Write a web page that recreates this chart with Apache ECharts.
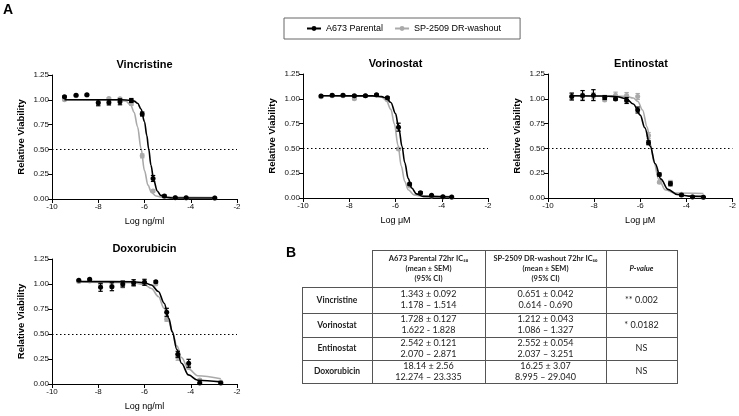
<!DOCTYPE html>
<html><head><meta charset="utf-8">
<script src="https://cdn.jsdelivr.net/npm/echarts@6/dist/echarts.min.js"></script>
<style>html,body{margin:0;padding:0;background:#fff}#c{width:739px;height:416px}</style>
</head><body><div id="c"></div><script>
// ---------- DATA ----------
const drugs = ['Vincristine', 'Vorinostat', 'Entinostat', 'Doxorubicin'];
const xUnits = ['Log ng/ml', 'Log \u03bcM', 'Log \u03bcM', 'Log ng/ml'];
const xTicks = [-10, -8, -6, -4, -2];
const yTicks = [0, 0.25, 0.5, 0.75, 1.0, 1.25];
const seriesNames = ['A673 Parental', 'SP-2509 DR-washout'];

// Vincristine
const vinX = [-9.46, -8.96, -8.49, -8.0, -7.54, -7.06, -6.57, -6.1, -5.63, -5.14, -4.67, -4.2, -2.96];
const vinPar = [1.03, 1.047, 1.05, 0.97, 0.973, 0.98, 0.993, 0.857, 0.207, 0.03, 0.013, 0.013, 0.01];
const vinParErr = [0.008, 0.008, 0.008, 0.03, 0.025, 0.03, 0.02, 0.02, 0.03, 0.01, 0.005, 0.005, 0.005];
const vinWsh = [1.0, 1.04, 1.045, 0.97, 1.013, 1.01, 0.96, 0.435, 0.08, 0.025, 0.015, 0.01, 0.01];
const vinWshErr = [0.005, 0.005, 0.005, 0.01, 0.01, 0.01, 0.015, 0.02, 0.01, 0.005, 0.005, 0.005, 0.005];
const vinParCurveX = [-9.46, -7.0, -6.6, -6.45, -6.3, -6.15, -6.0, -5.9, -5.82, -5.72, -5.6, -5.45, -5.3, -5.1, -4.8, -2.96];
const vinParCurveY = [1.0, 1.0, 0.995, 0.987, 0.965, 0.908, 0.779, 0.639, 0.505, 0.34, 0.188, 0.081, 0.037, 0.017, 0.0103, 0.01];
const vinWshCurveX = [-9.46, -7.2, -6.8, -6.6, -6.45, -6.3, -6.15, -6.0, -5.85, -5.7, -5.5, -5.2, -2.96];
const vinWshCurveY = [1.0, 0.999, 0.985, 0.948, 0.875, 0.728, 0.508, 0.287, 0.14, 0.066, 0.03, 0.017, 0.015];

// Vorinostat
const vorX = [-9.22, -8.74, -8.27, -7.78, -7.3, -6.82, -6.35, -5.87, -5.39, -4.92, -4.44, -3.95, -3.57];
const vorPar = [1.027, 1.037, 1.037, 1.03, 1.03, 1.04, 1.01, 0.714, 0.14, 0.054, 0.027, 0.013, 0.01];
const vorParErr = [0.008, 0.008, 0.008, 0.008, 0.008, 0.008, 0.01, 0.04, 0.01, 0.01, 0.005, 0.005, 0.005];
const vorWsh = [1.02, 1.03, 1.03, 1.0, 1.03, 1.035, 0.99, 0.495, 0.12, 0.045, 0.02, 0.01, 0.008];
const vorWshErr = [0.008, 0.008, 0.008, 0.008, 0.008, 0.008, 0.008, 0.01, 0.008, 0.005, 0.005, 0.005, 0.005];
const vorParCurveX = [-9.22, -7.0, -6.6, -6.4, -6.2, -6.0, -5.85, -5.72, -5.6, -5.45, -5.3, -5.1, -4.8, -3.57];
const vorParCurveY = [1.03, 1.029, 1.022, 1.007, 0.963, 0.851, 0.696, 0.52, 0.357, 0.197, 0.101, 0.042, 0.016, 0.01];
const vorWshCurveX = [-9.22, -7.0, -6.6, -6.4, -6.2, -6.05, -5.89, -5.75, -5.6, -5.45, -5.2, -4.8, -3.57];
const vorWshCurveY = [1.03, 1.029, 1.016, 0.984, 0.893, 0.748, 0.53, 0.322, 0.167, 0.083, 0.031, 0.0165, 0.015];

// Entinostat
const entX = [-8.97, -8.5, -8.03, -7.54, -7.07, -6.59, -6.11, -5.64, -5.17, -4.69, -4.21, -3.73, -3.26];
const entPar = [1.023, 1.033, 1.037, 1.013, 0.997, 0.983, 0.887, 0.557, 0.237, 0.143, 0.03, 0.01, 0.007];
const entParErr = [0.035, 0.05, 0.055, 0.02, 0.01, 0.03, 0.03, 0.02, 0.015, 0.02, 0.01, 0.005, 0.005];
const entWsh = [1.02, 1.025, 1.03, 0.987, 1.037, 1.033, 1.023, 0.63, 0.16, 0.157, 0.037, 0.012, 0.01];
const entWshErr = [0.03, 0.03, 0.03, 0.01, 0.03, 0.03, 0.03, 0.03, 0.01, 0.02, 0.01, 0.005, 0.005];
const entParCurveX = [-8.97, -7.5, -7.0, -6.6, -6.3, -6.0, -5.8, -5.57, -5.35, -5.1, -4.8, -4.4, -3.9, -3.26];
const entParCurveY = [1.03, 1.028, 1.021, 0.999, 0.948, 0.835, 0.708, 0.523, 0.345, 0.19, 0.087, 0.035, 0.019, 0.016];
const entWshCurveX = [-8.97, -6.6, -6.3, -6.1, -5.9, -5.7, -5.55, -5.4, -5.2, -4.9, -4.5, -3.26];
const entWshCurveY = [1.03, 1.025, 1.008, 0.973, 0.887, 0.716, 0.537, 0.359, 0.188, 0.08, 0.05, 0.045];

// Doxorubicin
const doxX = [-8.84, -8.37, -7.9, -7.41, -6.94, -6.47, -6.0, -5.51, -5.04, -4.56, -4.09, -3.61, -2.7];
const doxPar = [1.037, 1.047, 0.967, 0.973, 1.0, 1.013, 1.017, 1.023, 0.717, 0.297, 0.207, 0.01, 0.01];
const doxParErr = [0.008, 0.008, 0.04, 0.04, 0.03, 0.03, 0.03, 0.01, 0.04, 0.03, 0.04, 0.005, 0.005];
const doxWsh = [1.025, 1.03, 0.99, 0.98, 0.983, 1.0, 1.01, 1.0, 0.647, 0.267, 0.17, 0.04, 0.02];
const doxWshErr = [0.01, 0.01, 0.02, 0.02, 0.02, 0.02, 0.02, 0.01, 0.02, 0.03, 0.02, 0.01, 0.01];
const doxParCurveX = [-8.84, -6.5, -6.0, -5.7, -5.4, -5.15, -4.95, -4.8, -4.6, -4.4, -4.1, -3.7, -2.7];
const doxParCurveY = [1.025, 1.023, 1.013, 0.99, 0.925, 0.808, 0.658, 0.522, 0.345, 0.207, 0.091, 0.037, 0.021];
const doxWshCurveX = [-8.84, -6.5, -6.0, -5.7, -5.4, -5.15, -4.95, -4.8, -4.6, -4.4, -4.1, -3.7, -2.7];
const doxWshCurveY = [1.02, 1.014, 0.992, 0.955, 0.875, 0.757, 0.628, 0.521, 0.381, 0.265, 0.151, 0.083, 0.052];

// Table (panel B)
const tableRows = ['Vincristine', 'Vorinostat', 'Entinostat', 'Doxorubicin'];
const tableHeaders = [
  ['A673 Parental 72hr IC\u2085\u2080', '(mean \u00b1 SEM)', '(95% CI)'],
  ['SP-2509 DR-washout 72hr IC\u2085\u2080', '(mean \u00b1 SEM)', '(95% CI)'],
  ['P-value']
];
const parentalMean = ['1.343 \u00b1 0.092', '1.728 \u00b1 0.127', '2.542 \u00b1 0.121', '18.14 \u00b1 2.56'];
const parentalCI = ['1.178 \u2013 1.514', '1.622 - 1.828', '2.070 \u2013 2.871', '12.274 \u2013 23.335'];
const washoutMean = ['0.651 \u00b1 0.042', '1.212 \u00b1 0.043', '2.552 \u00b1 0.054', '16.25 \u00b1 3.07'];
const washoutCI = ['0.614 - 0.690', '1.086 \u2013 1.327', '2.037 \u2013 3.251', '8.995 \u2013 29.040'];
const pValues = ['** 0.002', '* 0.0182', 'NS', 'NS'];

// ---------- LAYOUT / STYLE ----------
const panels = [
  {x: vinX, par: vinPar, parErr: vinParErr, wsh: vinWsh, wshErr: vinWshErr, pcx: vinParCurveX, pcy: vinParCurveY, wcx: vinWshCurveX, wcy: vinWshCurveY},
  {x: vorX, par: vorPar, parErr: vorParErr, wsh: vorWsh, wshErr: vorWshErr, pcx: vorParCurveX, pcy: vorParCurveY, wcx: vorWshCurveX, wcy: vorWshCurveY},
  {x: entX, par: entPar, parErr: entParErr, wsh: entWsh, wshErr: entWshErr, pcx: entParCurveX, pcy: entParCurveY, wcx: entWshCurveX, wcy: entWshCurveY},
  {x: doxX, par: doxPar, parErr: doxParErr, wsh: doxWsh, wshErr: doxWshErr, pcx: doxParCurveX, pcy: doxParCurveY, wcx: doxWshCurveX, wcy: doxWshCurveY}
];
const gridBoxes = [
  {left: 52, top: 75, width: 185, height: 124},
  {left: 303, top: 74, width: 185, height: 124},
  {left: 548, top: 74, width: 186, height: 124},
  {left: 52, top: 259, width: 185, height: 125}
];
const BLACK = '#000000', GRAY = '#aaaaaa';
const FONT = '"Liberation Sans", Arial, sans-serif';
const TFONT = 'Lato, "Open Sans", sans-serif';

function errRender(params, api) {
  const x = api.value(0), y = api.value(1), e = api.value(2);
  const p1 = api.coord([x, y + e]), p2 = api.coord([x, y - e]);
  const c = api.visual('color');
  const hw = 2.2;
  const st = {stroke: c, lineWidth: 1.2};
  return {type: 'group', children: [
    {type: 'line', shape: {x1: p1[0], y1: p1[1], x2: p2[0], y2: p2[1]}, style: st},
    {type: 'line', shape: {x1: p1[0] - hw, y1: p1[1], x2: p1[0] + hw, y2: p1[1]}, style: st},
    {type: 'line', shape: {x1: p2[0] - hw, y1: p2[1], x2: p2[0] + hw, y2: p2[1]}, style: st}
  ]};
}

const grid = [], xAxis = [], yAxis = [], series = [], graphic = [];
panels.forEach((p, i) => {
  grid.push(Object.assign({containLabel: false}, gridBoxes[i]));
  xAxis.push({
    type: 'value', gridIndex: i, min: xTicks[0], max: xTicks[xTicks.length - 1], interval: 2,
    name: xUnits[i], nameLocation: 'middle', nameGap: 18,
    nameTextStyle: {fontFamily: FONT, fontSize: 9, color: '#000'},
    axisLine: {show: true, onZero: false, lineStyle: {color: '#000', width: 1}},
    axisTick: {show: true, inside: false, length: 4, lineStyle: {color: '#000'}},
    axisLabel: {fontFamily: FONT, fontSize: 8, color: '#111', margin: 4},
    splitLine: {show: false}
  });
  yAxis.push({
    type: 'value', gridIndex: i, min: yTicks[0], max: yTicks[yTicks.length - 1], interval: 0.25,
    name: 'Relative Viability', nameLocation: 'middle', nameGap: 26,
    nameTextStyle: {fontFamily: FONT, fontSize: 9.5, fontWeight: 'bold', color: '#000'},
    axisLine: {show: true, onZero: false, lineStyle: {color: '#000', width: 1}},
    axisTick: {show: true, inside: false, length: 4, lineStyle: {color: '#000'}},
    axisLabel: {fontFamily: FONT, fontSize: 8, color: '#111', margin: 3, formatter: v => v.toFixed(2)},
    splitLine: {show: false}
  });
  const gb = gridBoxes[i];
  graphic.push({type: 'text', x: gb.left + gb.width / 2, y: gb.top - 10,
    style: {text: drugs[i], font: 'bold 11px ' + FONT, fill: '#000', textAlign: 'center', textVerticalAlign: 'middle'}});
});

// legend-named curve series first (so legend icons come from line series)
panels.forEach((p, i) => {
  series.push({
    type: 'line', name: seriesNames[1], xAxisIndex: i, yAxisIndex: i, z: 2,
    data: p.wcx.map((x, j) => [x, p.wcy[j]]),
    smooth: 0.35, smoothMonotone: 'x', symbol: 'circle', symbolSize: 5, showSymbol: false,
    color: GRAY, lineStyle: {color: GRAY, width: 1.6}, itemStyle: {color: GRAY}
  });
  series.push({
    type: 'line', name: seriesNames[0], xAxisIndex: i, yAxisIndex: i, z: 3,
    data: p.pcx.map((x, j) => [x, p.pcy[j]]),
    smooth: 0.35, smoothMonotone: 'x', symbol: 'circle', symbolSize: 5, showSymbol: false,
    color: BLACK, lineStyle: {color: BLACK, width: 1.6}, itemStyle: {color: BLACK},
    markLine: {
      silent: true, symbol: ['none', 'none'], animation: false,
      label: {show: false},
      lineStyle: {color: '#000', width: 1, type: [1.5, 2.5]},
      data: [{yAxis: 0.5}]
    }
  });
});
panels.forEach((p, i) => {
  series.push({
    type: 'custom', name: 'wshErr' + i, xAxisIndex: i, yAxisIndex: i, z: 2,
    renderItem: errRender, itemStyle: {color: GRAY}, encode: {x: 0, y: 1},
    data: p.x.map((x, j) => [x, p.wsh[j], p.wshErr[j]])
  });
  series.push({
    type: 'scatter', name: 'wshPts' + i, xAxisIndex: i, yAxisIndex: i, z: 2,
    symbol: 'circle', symbolSize: 5, itemStyle: {color: GRAY, opacity: 1},
    data: p.x.map((x, j) => [x, p.wsh[j]])
  });
  series.push({
    type: 'custom', name: 'parErr' + i, xAxisIndex: i, yAxisIndex: i, z: 4,
    renderItem: errRender, itemStyle: {color: BLACK}, encode: {x: 0, y: 1},
    data: p.x.map((x, j) => [x, p.par[j], p.parErr[j]])
  });
  series.push({
    type: 'scatter', name: 'parPts' + i, xAxisIndex: i, yAxisIndex: i, z: 4,
    symbol: 'circle', symbolSize: 5, itemStyle: {color: BLACK, opacity: 1},
    data: p.x.map((x, j) => [x, p.par[j]])
  });
});

// Panel letters
graphic.push({type: 'text', x: 3, y: 3, style: {text: 'A', font: 'bold 14px ' + FONT, fill: '#000'}});
graphic.push({type: 'text', x: 286, y: 246, style: {text: 'B', font: 'bold 14px ' + FONT, fill: '#000'}});

// Table layout
const colX = [302, 372, 485, 606, 677];
const rowY = [250, 287, 313, 337, 360, 383];
const LC = '#555555';
function hline(x1, x2, y) { graphic.push({type: 'line', shape: {x1: x1, y1: y + 0.5, x2: x2, y2: y + 0.5}, style: {stroke: LC, lineWidth: 1}}); }
function vline(x, y1, y2) { graphic.push({type: 'line', shape: {x1: x + 0.5, y1: y1, x2: x + 0.5, y2: y2 + 1}, style: {stroke: LC, lineWidth: 1}}); }
hline(colX[1], colX[4], rowY[0]);
for (let r = 1; r < rowY.length; r++) hline(colX[0], colX[4], rowY[r]);
vline(colX[0], rowY[1], rowY[5]);
for (let c = 1; c < colX.length; c++) vline(colX[c], rowY[0], rowY[5]);
function ttext(t, x, y, font) {
  graphic.push({type: 'text', x: x, y: y, style: {text: t, font: font, fill: '#222', textAlign: 'center', textVerticalAlign: 'middle'}});
}
const hMid = (rowY[0] + rowY[1]) / 2;
tableHeaders.forEach((lines, c) => {
  const cx = (colX[c + 1] + colX[c + 2]) / 2;
  const n = lines.length;
  lines.forEach((t, k) => {
    const y = hMid + (k - (n - 1) / 2) * 10;
    ttext(t, cx, y, (c === 2 ? 'italic bold ' : 'bold ') + '7.5px ' + TFONT);
  });
});
tableRows.forEach((name, r) => {
  const mid = (rowY[r + 1] + rowY[r + 2]) / 2;
  ttext(name, (colX[0] + colX[1]) / 2, mid, 'bold 8.5px ' + TFONT);
  ttext(parentalMean[r], (colX[1] + colX[2]) / 2, mid - 5.5, '9px ' + TFONT);
  ttext(parentalCI[r], (colX[1] + colX[2]) / 2, mid + 5.5, '9px ' + TFONT);
  ttext(washoutMean[r], (colX[2] + colX[3]) / 2, mid - 5.5, '9px ' + TFONT);
  ttext(washoutCI[r], (colX[2] + colX[3]) / 2, mid + 5.5, '9px ' + TFONT);
  ttext(pValues[r], (colX[3] + colX[4]) / 2, mid, '9px ' + TFONT);
});

const chart = echarts.init(document.getElementById('c'), null, {renderer: 'canvas'});
chart.setOption({
  animation: false,
  backgroundColor: '#ffffff',
  legend: {
    data: seriesNames, left: 284, top: 18,
    padding: [6, 19, 6, 22], itemGap: 11, itemWidth: 14, itemHeight: 6,
    borderColor: '#666', borderWidth: 1, borderRadius: 0,
    textStyle: {fontFamily: FONT, fontSize: 9, color: '#000'},
    selectedMode: false
  },
  grid: grid, xAxis: xAxis, yAxis: yAxis, series: series, graphic: graphic
});
</script></body></html>
